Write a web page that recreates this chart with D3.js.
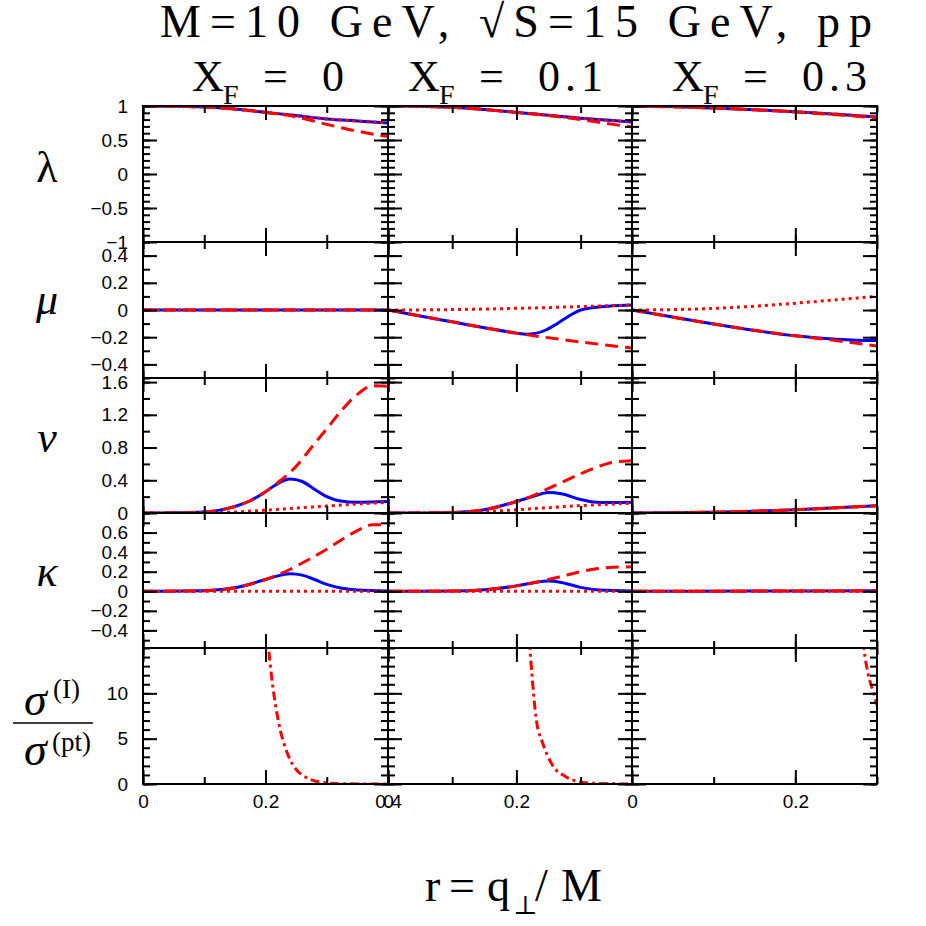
<!DOCTYPE html>
<head>
  <meta charset="utf-8">
  <script src="https://d3js.org/d3.v7.min.js"></script>
</head>
<body>
  <div id="chart"></div>

  <script>
    // ---- data, one set of curves per X_F column ----
    var columns = ['0', '0.1', '0.3'];          // X_F values
    var rMax = [0.4, 0.38, 0.3];                 // right end of r axis in each column

    // X_F = 0
    var lambdaFull0 = [[0,1],[0.05,0.996],[0.1,0.985],[0.15,0.955],[0.2,0.906],[0.25,0.86],[0.3,0.81],[0.35,0.78],[0.4,0.75]];
    var lambdaDash0 = [[0,1],[0.05,0.996],[0.1,0.985],[0.15,0.955],[0.2,0.906],[0.25,0.84],[0.3,0.73],[0.35,0.63],[0.4,0.55]];
    var lambdaDot0  = [[0,1],[0.1,0.985],[0.2,0.906],[0.3,0.81],[0.4,0.752]];
    var muFull0 = [[0,0],[0.4,0]];
    var muDash0 = [[0,0],[0.4,0]];
    var muDot0  = [[0,0],[0.4,0]];
    var nuFull0 = [[0,0],[0.05,0.002],[0.1,0.012],[0.125,0.035],[0.15,0.08],[0.175,0.15],[0.2,0.26],[0.22,0.36],[0.24,0.415],[0.26,0.385],[0.28,0.29],[0.3,0.2],[0.32,0.15],[0.35,0.13],[0.4,0.14]];
    var nuDash0 = [[0,0],[0.05,0.002],[0.1,0.012],[0.125,0.035],[0.15,0.08],[0.175,0.15],[0.2,0.26],[0.225,0.4],[0.25,0.57],[0.275,0.8],[0.3,1.03],[0.325,1.26],[0.35,1.45],[0.375,1.555],[0.4,1.55]];
    var nuDot0  = [[0,0],[0.1,0.003],[0.15,0.012],[0.2,0.035],[0.25,0.06],[0.3,0.085],[0.35,0.11],[0.4,0.13]];
    var kappaFull0 = [[0,0],[0.1,0.005],[0.15,0.035],[0.2,0.12],[0.225,0.165],[0.24,0.18],[0.26,0.165],[0.28,0.12],[0.3,0.07],[0.325,0.03],[0.35,0.012],[0.4,0.003]];
    var kappaDash0 = [[0,0],[0.1,0.005],[0.15,0.035],[0.2,0.12],[0.225,0.18],[0.25,0.255],[0.275,0.34],[0.3,0.43],[0.325,0.53],[0.35,0.62],[0.375,0.68],[0.4,0.68]];
    var kappaDot0  = [[0,0],[0.4,0]];
    var sigma0 = [[0.2,19],[0.205,15],[0.21,11.8],[0.215,9.3],[0.22,7.3],[0.225,5.7],[0.23,4.5],[0.235,3.5],[0.24,2.7],[0.25,1.6],[0.26,1.0],[0.27,0.6],[0.28,0.35],[0.3,0.12],[0.32,0.04],[0.35,0.01],[0.4,0]];

    // X_F = 0.1
    var lambdaFull1 = [[0,1],[0.05,0.996],[0.1,0.98],[0.15,0.95],[0.2,0.906],[0.25,0.865],[0.3,0.82],[0.35,0.785],[0.38,0.765]];
    var lambdaDash1 = [[0,1],[0.05,0.996],[0.1,0.98],[0.15,0.95],[0.2,0.906],[0.25,0.86],[0.3,0.8],[0.35,0.73],[0.38,0.69]];
    var lambdaDot1  = [[0,1],[0.1,0.98],[0.2,0.906],[0.3,0.82],[0.38,0.765]];
    var muFull1 = [[0,0],[0.05,-0.044],[0.1,-0.087],[0.15,-0.13],[0.2,-0.17],[0.215,-0.178],[0.23,-0.172],[0.246,-0.147],[0.26,-0.11],[0.272,-0.074],[0.285,-0.035],[0.3,0],[0.32,0.018],[0.35,0.031],[0.38,0.037]];
    var muDash1 = [[0,0],[0.1,-0.087],[0.2,-0.17],[0.3,-0.235],[0.38,-0.28]];
    var muDot1  = [[0,0],[0.1,0.003],[0.2,0.012],[0.3,0.025],[0.38,0.037]];
    var nuFull1 = [[0,0],[0.05,0.001],[0.1,0.007],[0.15,0.04],[0.2,0.14],[0.225,0.2],[0.25,0.25],[0.27,0.235],[0.3,0.165],[0.32,0.135],[0.34,0.128],[0.38,0.13]];
    var nuDash1 = [[0,0],[0.1,0.007],[0.15,0.04],[0.2,0.14],[0.225,0.21],[0.25,0.3],[0.275,0.39],[0.3,0.48],[0.325,0.56],[0.35,0.62],[0.38,0.64]];
    var nuDot1  = [[0,0],[0.1,0.003],[0.15,0.015],[0.2,0.04],[0.25,0.065],[0.3,0.09],[0.38,0.12]];
    var kappaFull1 = [[0,0],[0.1,0.002],[0.15,0.015],[0.2,0.055],[0.225,0.085],[0.25,0.105],[0.27,0.09],[0.3,0.04],[0.33,0.012],[0.38,0.002]];
    var kappaDash1 = [[0,0],[0.1,0.002],[0.15,0.015],[0.2,0.055],[0.225,0.085],[0.25,0.12],[0.275,0.16],[0.3,0.2],[0.325,0.23],[0.35,0.245],[0.38,0.25]];
    var kappaDot1  = [[0,0],[0.38,0]];
    var sigma1 = [[0.218,18],[0.221,15],[0.224,12.2],[0.231,7.1],[0.241,4.5],[0.256,2.1],[0.277,0.8],[0.298,0.25],[0.32,0.08],[0.35,0.02],[0.38,0]];

    // X_F = 0.3
    var lambdaFull2 = [[0,1],[0.05,0.992],[0.1,0.97],[0.15,0.945],[0.2,0.915],[0.25,0.88],[0.3,0.84]];
    var lambdaDash2 = [[0,1],[0.1,0.97],[0.2,0.912],[0.25,0.872],[0.3,0.825]];
    var lambdaDot2  = [[0,1],[0.1,0.97],[0.2,0.915],[0.3,0.84]];
    var muFull2 = [[0,0],[0.05,-0.052],[0.1,-0.103],[0.15,-0.15],[0.2,-0.19],[0.25,-0.215],[0.275,-0.222],[0.3,-0.225]];
    var muDash2 = [[0,0],[0.1,-0.103],[0.2,-0.19],[0.25,-0.225],[0.3,-0.265]];
    var muDot2  = [[0,0],[0.05,0.003],[0.1,0.012],[0.15,0.028],[0.2,0.05],[0.25,0.075],[0.3,0.1]];
    var nuFull2 = [[0,0],[0.05,0.002],[0.1,0.01],[0.15,0.022],[0.2,0.04],[0.25,0.065],[0.3,0.09]];
    var nuDash2 = [[0,0],[0.05,0.002],[0.1,0.01],[0.15,0.022],[0.2,0.04],[0.25,0.065],[0.3,0.09]];
    var nuDot2  = [[0,0],[0.1,0.01],[0.2,0.04],[0.3,0.088]];
    var kappaFull2 = [[0,0],[0.15,0.002],[0.3,0.005]];
    var kappaDash2 = [[0,0],[0.3,0.003]];
    var kappaDot2  = [[0,0],[0.3,0]];
    var sigma2 = [[0.281,18],[0.284,15],[0.289,12.2],[0.296,10],[0.3,8.7]];

    // ---- axis settings per row ----
    var rowDomains = [[-1, 1], [-0.5, 0.5], [0, 1.65], [-0.58, 0.8], [0, 15]];
    var rowMajor = [[-1, -0.5, 0, 0.5, 1], [-0.4, -0.2, 0, 0.2, 0.4], [0, 0.4, 0.8, 1.2, 1.6], [-0.4, -0.2, 0, 0.2, 0.4, 0.6], [0, 5, 10]];
    var rowLabels = [['\u22121', '\u22120.5', '0', '0.5', '1'], ['\u22120.4', '\u22120.2', '0', '0.2', '0.4'],
                     ['0', '0.4', '0.8', '1.2', '1.6'], ['\u22120.4', '\u22120.2', '0', '0.2', '0.4', '0.6'], ['0', '5', '10']];
    var rowMinorStep = [0.1, 0.1, 0.2, 0.1, 1];
    var xMajor = [0, 0.2, 0.4];
    var xLabels = [[0, 0.2, 0.4], [0, 0.2], [0, 0.2]];

    var rows = [
      [{full: lambdaFull0, dash: lambdaDash0, dot: lambdaDot0}, {full: lambdaFull1, dash: lambdaDash1, dot: lambdaDot1}, {full: lambdaFull2, dash: lambdaDash2, dot: lambdaDot2}],
      [{full: muFull0, dash: muDash0, dot: muDot0}, {full: muFull1, dash: muDash1, dot: muDot1}, {full: muFull2, dash: muDash2, dot: muDot2}],
      [{full: nuFull0, dash: nuDash0, dot: nuDot0}, {full: nuFull1, dash: nuDash1, dot: nuDot1}, {full: nuFull2, dash: nuDash2, dot: nuDot2}],
      [{full: kappaFull0, dash: kappaDash0, dot: kappaDot0}, {full: kappaFull1, dash: kappaDash1, dot: kappaDot1}, {full: kappaFull2, dash: kappaDash2, dot: kappaDot2}],
      [{dashdot: sigma0}, {dashdot: sigma1}, {dashdot: sigma2}]
    ];

    // ---- layout ----
    var colX = [143, 388, 632, 877];
    var rowY = [106, 242, 378, 513, 648, 784];

    var styles = {
      full:    {color: '#0000ff', dash: null},
      dash:    {color: '#ff0000', dash: '13,7'},
      dot:     {color: '#ff0000', dash: '3,4'},
      dashdot: {color: '#ff0000', dash: '9,4,3,4'}
    };

    var svg = d3.select('#chart')
      .append('svg')
        .attr('width', 926)
        .attr('height', 926)
        .style('display', 'block')
        .style('background', '#fff');

    var xScales = rMax.map((m, c) => d3.scaleLinear().domain([0, m]).range([colX[c], colX[c + 1]]));
    var yScales = rowDomains.map((d, r) => d3.scaleLinear().domain(d).range([rowY[r + 1], rowY[r]]));

    function steps(domain, step) {
      var lo = Math.ceil(domain[0] / step - 1e-6), hi = Math.floor(domain[1] / step + 1e-6);
      return d3.range(lo, hi + 1).map(i => +(i * step).toFixed(4));
    }

    function tickAxis(g, axis, size, vals) {
      g.call(axis.tickValues(vals).tickSize(size).tickFormat(''));
      g.select('.domain').remove();
      g.selectAll('.tick line').attr('stroke', '#000').attr('stroke-width', 2);
    }

    var sans = 'Liberation Sans, Arial, sans-serif';
    var serif = 'Liberation Serif, DejaVu Serif, serif';

    var defs = svg.append('defs');

    rows.forEach(function(row, r) {
      var y = yScales[r];
      var yMinor = steps(rowDomains[r], rowMinorStep[r]);
      row.forEach(function(panel, c) {
        var x = xScales[c];
        var xMin = steps([0, rMax[c]], 0.1);
        var xMaj = xMajor.filter(v => v <= rMax[c] + 1e-6);
        var id = 'clip' + r + c;
        defs.append('clipPath').attr('id', id)
          .append('rect')
            .attr('x', colX[c]).attr('y', rowY[r])
            .attr('width', colX[c + 1] - colX[c]).attr('height', rowY[r + 1] - rowY[r]);

        var g = svg.append('g');
        var curves = g.append('g').attr('clip-path', 'url(#' + id + ')');
        var line = d3.line().x(d => x(d[0])).y(d => y(d[1])).curve(d3.curveMonotoneX);

        ['full', 'dash', 'dot', 'dashdot'].forEach(function(k) {
          if (!panel[k]) return;
          curves.append('path')
            .attr('d', line(panel[k]))
            .attr('fill', 'none')
            .attr('stroke', styles[k].color)
            .attr('stroke-width', 3)
            .attr('stroke-dasharray', styles[k].dash);
        });

        // inward ticks on all four sides
        tickAxis(g.append('g').attr('transform', `translate(${colX[c]},0)`), d3.axisRight(y), 7, yMinor);
        tickAxis(g.append('g').attr('transform', `translate(${colX[c]},0)`), d3.axisRight(y), 14, rowMajor[r]);
        tickAxis(g.append('g').attr('transform', `translate(${colX[c + 1]},0)`), d3.axisLeft(y), 7, yMinor);
        tickAxis(g.append('g').attr('transform', `translate(${colX[c + 1]},0)`), d3.axisLeft(y), 14, rowMajor[r]);
        tickAxis(g.append('g').attr('transform', `translate(0,${rowY[r]})`), d3.axisBottom(x), 7, xMin);
        tickAxis(g.append('g').attr('transform', `translate(0,${rowY[r]})`), d3.axisBottom(x), 14, xMaj);
        tickAxis(g.append('g').attr('transform', `translate(0,${rowY[r + 1]})`), d3.axisTop(x), 7, xMin);
        tickAxis(g.append('g').attr('transform', `translate(0,${rowY[r + 1]})`), d3.axisTop(x), 14, xMaj);

        g.append('rect')
          .attr('x', colX[c]).attr('y', rowY[r])
          .attr('width', colX[c + 1] - colX[c]).attr('height', rowY[r + 1] - rowY[r])
          .attr('fill', 'none').attr('stroke', '#000').attr('stroke-width', 2);
      });

      // y tick labels on the left column
      var lab = svg.append('g')
        .attr('transform', `translate(${colX[0]},0)`)
        .call(d3.axisLeft(y).tickValues(rowMajor[r]).tickSize(0).tickPadding(15)
          .tickFormat((d, i) => rowLabels[r][i]));
      lab.select('.domain').remove();
      lab.attr('font-family', sans).attr('font-size', 19);
      lab.selectAll('text').attr('fill', '#000');
    });

    // x tick labels under the bottom row
    xScales.forEach(function(x, c) {
      var lab = svg.append('g')
        .attr('transform', `translate(0,${rowY[5]})`)
        .call(d3.axisBottom(x).tickValues(xLabels[c]).tickSize(0).tickPadding(11).tickFormat(d3.format('')));
      lab.select('.domain').remove();
      lab.attr('font-family', sans).attr('font-size', 19);
      lab.selectAll('text').attr('fill', '#000');
    });

    // title
    svg.append('text')
      .attr('x', 160).attr('y', 37)
      .attr('textLength', 712).attr('lengthAdjust', 'spacing')
      .attr('font-family', serif).attr('font-size', 46)
      .text('M=10 GeV, \u221AS=15 GeV, pp');

    // column headers X_F = ...
    var headX = [192, 408, 672];
    columns.forEach(function(v, c) {
      var t = svg.append('text').attr('font-family', serif).attr('font-size', 44).attr('y', 91);
      t.append('tspan').attr('x', headX[c]).text('X');
      t.append('tspan').attr('x', headX[c] + 31).attr('y', 104).attr('font-size', 28).text('F');
      t.append('tspan').attr('x', headX[c] + 71).attr('y', 91).text('=');
      t.append('tspan').attr('x', headX[c] + 130).attr('letter-spacing', 5).text(v);
    });

    // row labels
    var greek = [
      {t: '\u03BB', y: 182, italic: false},
      {t: '\u03BC', y: 314, italic: true},
      {t: '\u03BD', y: 452, italic: true},
      {t: '\u03BA', y: 586, italic: true}
    ];
    greek.forEach(function(d) {
      svg.append('text')
        .attr('x', 47).attr('y', d.y).attr('text-anchor', 'middle')
        .attr('font-family', serif).attr('font-size', 44)
        .attr('font-style', d.italic ? 'italic' : 'normal')
        .text(d.t);
    });

    // sigma ratio label
    var frac = svg.append('g').attr('font-family', serif);
    frac.append('text').attr('x', 24).attr('y', 715).attr('font-size', 46).attr('font-style', 'italic').text('\u03C3');
    frac.append('text').attr('x', 53).attr('y', 698).attr('font-size', 27).text('(I)');
    frac.append('line').attr('x1', 13).attr('x2', 93).attr('y1', 723).attr('y2', 723).attr('stroke', '#000').attr('stroke-width', 1.5);
    frac.append('text').attr('x', 24).attr('y', 765).attr('font-size', 46).attr('font-style', 'italic').text('\u03C3');
    frac.append('text').attr('x', 52).attr('y', 751).attr('font-size', 27).text('(pt)');

    // x axis title r = q_perp / M
    var xt = svg.append('text').attr('font-family', serif).attr('font-size', 46).attr('y', 901);
    xt.append('tspan').attr('x', 425).text('r');
    xt.append('tspan').attr('x', 449).text('=');
    xt.append('tspan').attr('x', 487).text('q');
    xt.append('tspan').attr('x', 513).attr('y', 914).attr('font-size', 26).text('\u22A5');
    xt.append('tspan').attr('x', 535).attr('y', 901).text('/');
    xt.append('tspan').attr('x', 561).text('M');
  </script>
</body>

<style>
  body {
    margin: 0;
    background: #fff;
  }
</style>
